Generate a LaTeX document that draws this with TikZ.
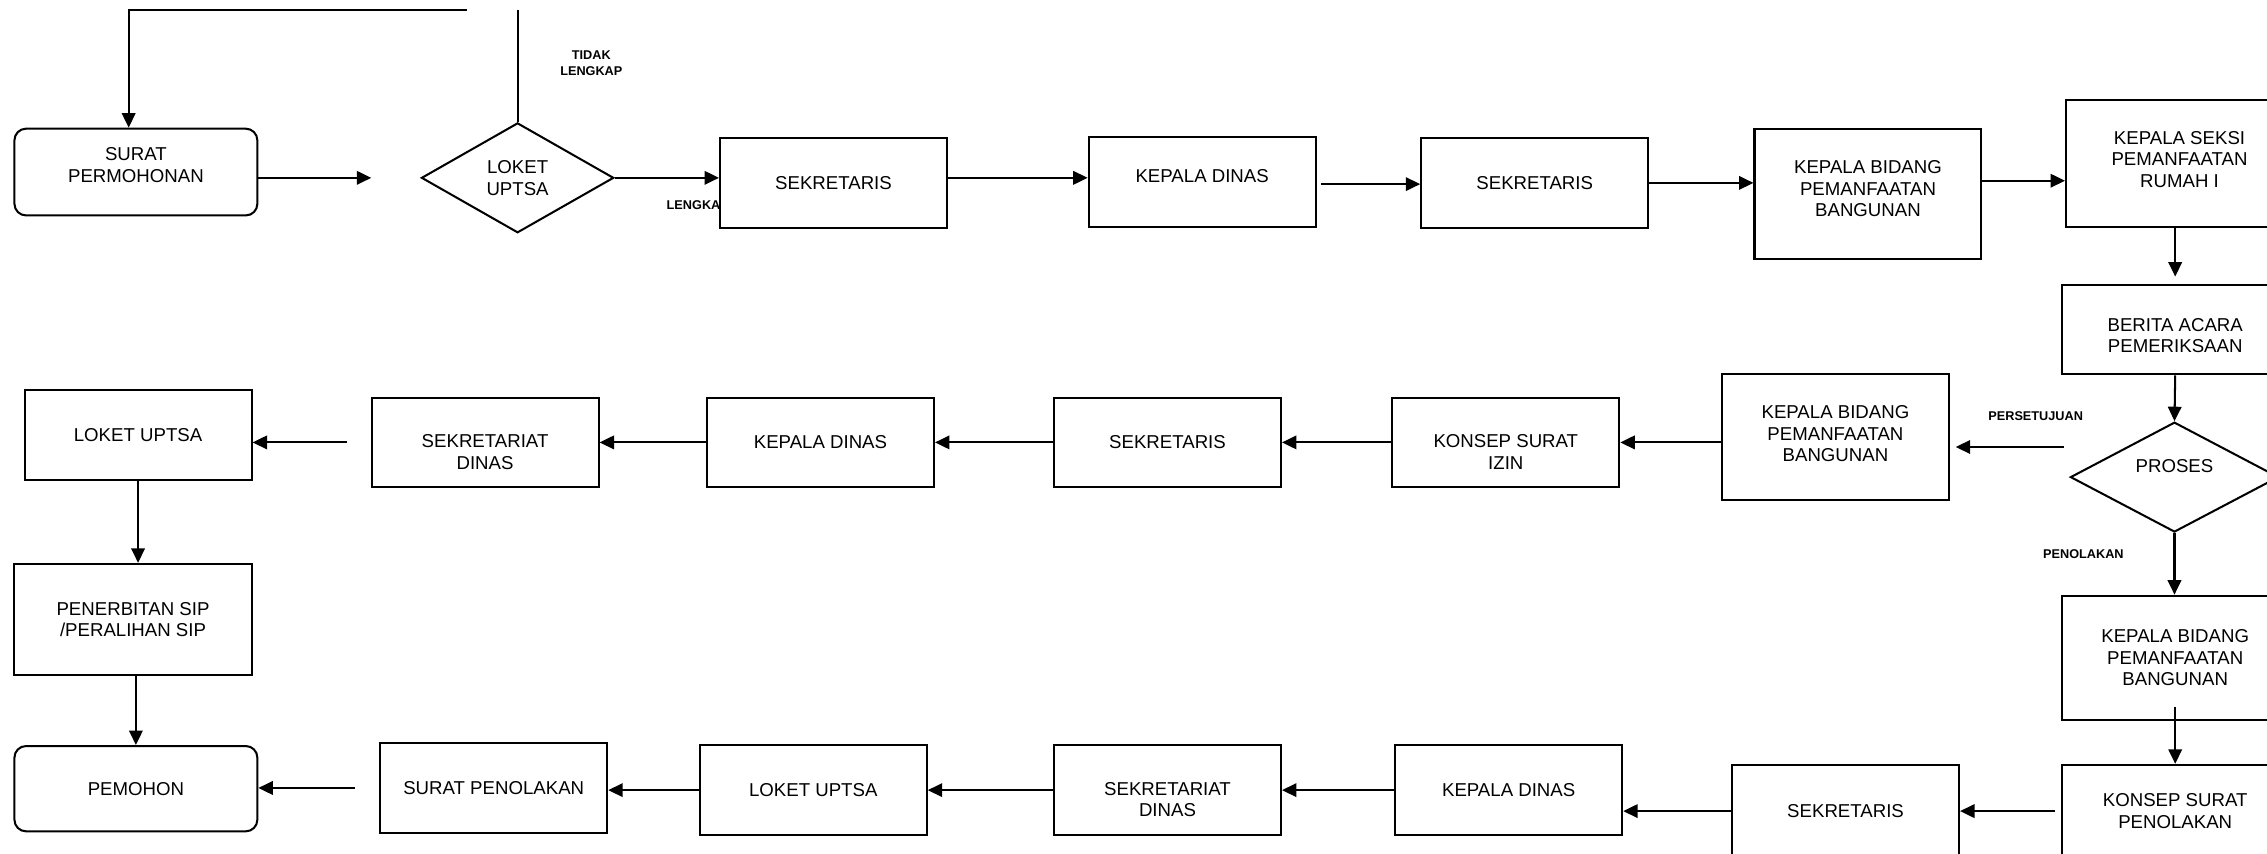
\documentclass[tikz,border=0pt]{standalone}
\usepackage{fontspec}
\setmainfont{Liberation Sans}
\usetikzlibrary{shapes.geometric,arrows.meta}

% raise the text inside a box without changing its size
\newcommand{\geser}[2]{\raisebox{#1}[\height][\depth]{\begin{tabular}{@{}c@{}}#2\end{tabular}}}

\begin{document}
\begin{tikzpicture}[x=0.3mm, y=-0.3mm,
    kotak/.style={draw, line width=1.2pt, fill=white, minimum width=4.71cm, minimum height=1.86cm,
        inner sep=1pt, align=center, font=\fontsize{11}{12.8}\selectfont},
    bulat/.style={kotak, rounded corners=2.4mm},
    wajik/.style={kotak, diamond},
    panah/.style={line width=1.2pt, -{Triangle[length=3mm, width=2.8mm]}},
    ket/.style={font=\fontsize{7.5}{9.4}\selectfont\bfseries, align=center}]
    \useasboundingbox (0,0) rectangle (1568,590);

    % Labels
    \node[ket] (tdk) at (409,43.5) {TIDAK\\LENGKAP};
    \node[ket, anchor=west] (lkp) at (457,142) {LENGKAP};
    \node[ket] (setuju) at (1408,288) {PERSETUJUAN};
    \node[ket] (tolak) at (1441,383) {PENOLAKAN};

    % Row 1
    \node[bulat, minimum width=168*0.3mm, minimum height=60*0.3mm] (surat) at (94,119) {\geser{1.05mm}{SURAT\\PERMOHONAN}};
    \node[wajik, minimum width=133*0.3mm, minimum height=76*0.3mm, inner sep=0pt] (loket1) at (358,123) {LOKET\\UPTSA};
    \node[kotak] (sek1) at (576.5,126.5) {SEKRETARIS};
    \node[kotak] (kd1) at (831.5,126) {\geser{0.9mm}{KEPALA DINAS}};
    \node[kotak] (sek2) at (1061.5,126.5) {SEKRETARIS};
    \node[kotak, minimum height=90*0.3mm] (kb1) at (1292,134) {\geser{0.6mm}{KEPALA BIDANG\\PEMANFAATAN\\BANGUNAN}};
    \node[kotak, minimum height=88*0.3mm] (kseksi) at (1507.5,113) {\geser{0.4mm}{KEPALA SEKSI\\PEMANFAATAN\\RUMAH I}};

    % Right column
    \node[kotak] (berita) at (1504.5,228) {\geser{-1.65mm}{BERITA ACARA\\PEMERIKSAAN}};
    \node[wajik, minimum width=144*0.3mm, minimum height=76*0.3mm, inner sep=0pt] (proses) at (1504,330) {\geser{1.8mm}{PROSES}};
    \node[kotak, minimum height=86*0.3mm] (kb3) at (1504.5,455) {KEPALA BIDANG\\PEMANFAATAN\\BANGUNAN};
    \node[kotak, minimum height=64*0.3mm] (konsep2) at (1504.5,561) {KONSEP SURAT\\PENOLAKAN};

    % Row 2 (persetujuan)
    \node[kotak, minimum height=87*0.3mm] (kb2) at (1269.5,302.5) {\geser{0.3mm}{KEPALA BIDANG\\PEMANFAATAN\\BANGUNAN}};
    \node[kotak] (konsep1) at (1041.5,306) {\geser{-2.45mm}{KONSEP SURAT\\IZIN}};
    \node[kotak] (sek3) at (807.5,306) {SEKRETARIS};
    \node[kotak] (kd2) at (567.5,306) {KEPALA DINAS};
    \node[kotak] (sdinas1) at (335.5,306) {\geser{-2.45mm}{SEKRETARIAT\\DINAS}};
    \node[kotak] (loket2) at (95.5,301) {LOKET UPTSA};
    \node[kotak, minimum width=164*0.3mm, minimum height=77*0.3mm] (terbit) at (92,428.5) {PENERBITAN SIP\\/PERALIHAN SIP};
    \node[bulat, minimum width=168*0.3mm, minimum height=59*0.3mm] (pemohon) at (94,545.5) {PEMOHON};

    % Row 3 (penolakan)
    \node[kotak, minimum height=64*0.3mm] (sek4) at (1276.5,561) {SEKRETARIS};
    \node[kotak] (kd3) at (1043.5,546.5) {KEPALA DINAS};
    \node[kotak] (sdinas2) at (807.5,546.5) {\geser{-2.4mm}{SEKRETARIAT\\DINAS}};
    \node[kotak] (loket3) at (562.5,546.5) {LOKET UPTSA};
    \node[kotak] (spenolakan) at (341.5,545) {SURAT PENOLAKAN};

    % Tidak lengkap loop
    \coordinate (atas) at (358,7);
    \coordinate (kiri) at (323,7);
    \coordinate (sudut) at (89,7);
    \draw[line width=1.2pt] (loket1.north) -- (atas);
    \draw[panah] (kiri) -- (sudut) -- (sudut |- surat.north);

    % Flow row 1
    \draw[panah, shorten >=34*0.3mm] (surat.east |- loket1.west) -- (loket1.west);
    \draw[panah] (loket1.east) -- (loket1.east -| sek1.west);
    \draw[panah] (loket1.east -| sek1.east) -- (loket1.east -| kd1.west);
    \draw[panah, shorten <=3*0.3mm] ([yshift=-0.4mm]kd1.east) coordinate (q) -- (q -| sek2.west);
    \draw[panah] (sek2.east) -- (sek2.east -| kb1.west);
    \draw[panah] ([yshift=2.7mm]kb1.east) coordinate (p) -- (p -| kseksi.west);

    % Flow down the right
    \draw[panah, shorten >=1.5mm] (kseksi.south -| berita.north) -- (berita.north);
    \draw[panah] (berita.south) -- (proses.north);
    \draw[panah] (proses.south) -- (proses.south |- kb3.north);
    \draw[panah, shorten <=-3mm] (kb3.south) -- (konsep2.north);

    % Flow row 2
    \draw[panah, shorten <=1.2mm, shorten >=1.2mm] ([yshift=-2mm]kb2.east -| proses.west) -- ([yshift=-2mm]kb2.east);
    \draw[panah] (kb2.west |- konsep1.east) -- (konsep1.east);
    \draw[panah] (konsep1.west) -- (sek3.east);
    \draw[panah] (sek3.west) -- (kd2.east);
    \draw[panah] (kd2.west) -- (sdinas1.east);
    \draw[panah, shorten <=16*0.3mm] (sdinas1.west) -- (sdinas1.west -| loket2.east);
    \draw[panah] (loket2.south) -- (loket2.south |- terbit.north);
    \draw[panah] (pemohon.north |- terbit.south) -- (pemohon.north);

    % Flow row 3
    \draw[panah, shorten <=1.2mm] (konsep2.west) -- (sek4.east);
    \draw[panah] (sek4.west) -- (sek4.west -| kd3.east);
    \draw[panah] (kd3.west) -- (sdinas2.east);
    \draw[panah] (sdinas2.west) -- (loket3.east);
    \draw[panah] (loket3.west) -- (loket3.west -| spenolakan.east);
    \draw[panah, shorten <=17*0.3mm] (spenolakan.west) -- (spenolakan.west -| pemohon.east);
\end{tikzpicture}
\end{document}
